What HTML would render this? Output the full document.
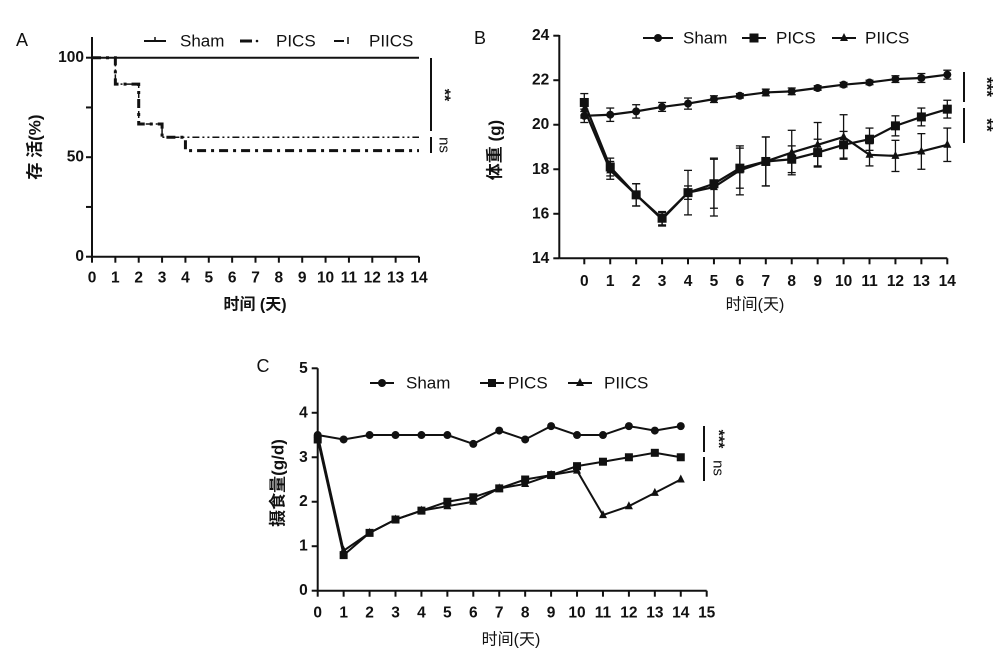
<!DOCTYPE html>
<html><head><meta charset="utf-8"><style>
html,body{margin:0;padding:0;background:#fff}
svg{display:block}
text{font-family:"Liberation Sans","Noto Sans CJK SC",sans-serif;fill:#111}
</style></head><body>
<svg id="s" width="1005" height="658" viewBox="0 0 1005 658" xmlns="http://www.w3.org/2000/svg">
</svg>
<script>
const S=document.getElementById('s');const NS='http://www.w3.org/2000/svg';
function el(t,a,txt){const e=document.createElementNS(NS,t);for(const k in a)e.setAttribute(k,a[k]);if(txt!==undefined)e.textContent=txt;S.appendChild(e);return e;}
function line(x1,y1,x2,y2,w,da){el('line',{x1,y1,x2,y2,stroke:'#111','stroke-width':w||2,'stroke-dasharray':da||'none'});}
function txt(x,y,s,o){o=o||{};const a={x,y,'font-size':o.fs||15,'text-anchor':o.a||'middle','font-weight':o.b?'bold':'normal'};if(o.tr)a.transform=o.tr;if(o.ff)a['font-family']=o.ff;a['dominant-baseline']='central';el('text',a,s);}
function poly(pts,w,da){el('polyline',{points:pts.map(p=>p.join(',')).join(' '),fill:'none',stroke:'#111','stroke-width':w||2,'stroke-dasharray':da||'none'});}
function marker(type,x,y,r){r=r||4;
 if(type==0)el('circle',{cx:x,cy:y,r:r,fill:'#111'});
 else if(type==1)el('rect',{x:x-r,y:y-r,width:2*r,height:2*r,fill:'#111'});
 else el('polygon',{points:`${x},${y-r-1} ${x-r},${y+r-1} ${x+r},${y+r-1}`,fill:'#111'});}
const TF=15.5, LF=17;
// ---------- Panel A ----------
(function(){
 const X0=92,DX=(419-92)/14,Y0=256.7,Y100=57.7;const Y=v=>Y0-(v/100)*(Y0-Y100);const X=d=>X0+d*DX;
 txt(22,40,'A',{fs:18,ff:'Liberation Serif',a:'middle'});
 line(X0,37,X0,Y0,2);line(X0,Y0,X(14),Y0,2);
 [0,25,50,75,100].forEach(v=>{line(X0-6,Y(v),X0,Y(v),2);});
 [0,50,100].forEach(v=>txt(X0-8,Y(v),String(v),{a:'end',b:1,fs:TF}));
 for(let d=0;d<=14;d++){line(X(d),Y0,X(d),Y0+6,2);txt(X(d),278,String(d),{b:1,fs:TF});}
 txt(255,305,'时间 (天)',{fs:16,b:1});
 txt(35,147,'存 活(%)',{fs:17,b:1,tr:'rotate(-90 35 147)'});
 line(X0,Y(100),X(14),Y(100),2);
 poly([[X0,Y(100)],[X(1),Y(100)],[X(1),Y(86.7)],[X(2),Y(86.7)],[X(2),Y(66.7)],[X(3),Y(66.7)],[X(3),Y(60)],[X(14),Y(60)]],1.5,'7 3 2 3 2 3');
 poly([[X0,Y(100)],[X(1),Y(100)],[X(1),Y(86.7)],[X(2),Y(86.7)],[X(2),Y(66.7)],[X(3),Y(66.7)],[X(3),Y(60)],[X(4),Y(60)],[X(4),Y(53.3)],[X(14),Y(53.3)]],3,'9 5 3 5');
 line(144,41,166,41,2);line(155,37,155,41,1.5);txt(180,41,'Sham',{a:'start',fs:LF});
 line(240,41,252,41,3);el('circle',{cx:257,cy:41,r:1.3,fill:'#111'});txt(276,41,'PICS',{a:'start',fs:LF});
 line(334,41,344,41,2);line(348,37,348,44,1.5);txt(369,41,'PIICS',{a:'start',fs:LF});
 line(431,58,431,131,2);line(431,137,431,153,2);
 txt(444,95,'**',{b:1,fs:16,tr:'rotate(90 444 95)'});
 txt(444,145,'ns',{fs:15,tr:'rotate(90 444 145)'});
})();
// ---------- Panel B ----------
(function(){
 const AX=559.3,X0=584.3,DX=(947.3-584.3)/14,Y14=258.3,Y24=35.7;const Y=v=>Y14-(v-14)*(Y14-Y24)/10;const X=d=>X0+d*DX;
 txt(480,38,'B',{fs:18,ff:'Liberation Serif'});
 line(AX,35,AX,Y14,2);line(AX,Y14,X(14),Y14,2);
 [14,16,18,20,22,24].forEach(v=>{line(AX-6,Y(v),AX,Y(v),2);txt(AX-10,Y(v),String(v),{a:'end',b:1,fs:TF});});
 for(let d=0;d<=14;d++){line(X(d),Y14,X(d),Y14+6,2);txt(X(d),281.7,String(d),{b:1,fs:TF});}
 txt(755,305,'时间(天)',{fs:16});
 txt(495,150,'体重 (g)',{fs:17,b:1,tr:'rotate(-90 495 150)'});
 const sh=[20.4,20.45,20.6,20.8,20.95,21.15,21.3,21.45,21.5,21.65,21.8,21.9,22.05,22.1,22.25];
 const pc=[21.0,18.1,16.85,15.8,16.95,17.35,18.05,18.35,18.45,18.75,19.1,19.35,19.95,20.35,20.7];
 const pi=[20.7,17.95,16.85,15.75,16.95,17.2,17.95,18.35,18.75,19.1,19.45,18.65,18.6,18.8,19.1];
 const esh=[0.3,0.3,0.3,0.2,0.25,0.15,0.1,0.15,0.15,0.1,0.1,0.1,0.15,0.2,0.2];
 const epc=[0.4,0.4,0.5,0.3,1.0,1.1,0.9,1.1,0.6,0.6,0.6,0.5,0.45,0.4,0.4];
 const epi=[0.4,0.4,0.5,0.3,0.3,1.3,1.1,1.1,1.0,1.0,1.0,0.5,0.7,0.8,0.75];
 function bars(v,e){v.forEach((y,i)=>{const x=X(i);line(x,Y(y-e[i]),x,Y(y+e[i]),1.3);line(x-4,Y(y-e[i]),x+4,Y(y-e[i]),1.3);line(x-4,Y(y+e[i]),x+4,Y(y+e[i]),1.3);});}
 bars(pi,epi);bars(pc,epc);bars(sh,esh);
 poly(pi.map((v,i)=>[X(i),Y(v)]),2.2);poly(pc.map((v,i)=>[X(i),Y(v)]),2.2);poly(sh.map((v,i)=>[X(i),Y(v)]),2.2);
 pi.forEach((v,i)=>marker(2,X(i),Y(v),4));pc.forEach((v,i)=>marker(1,X(i),Y(v),4.5));sh.forEach((v,i)=>marker(0,X(i),Y(v),4));
 line(643,38,673,38,2);marker(0,658,38,4);txt(683,38,'Sham',{a:'start',fs:LF});
 line(742,38,766,38,2);marker(1,754,38,4.5);txt(776,38,'PICS',{a:'start',fs:LF});
 line(832,38,856,38,2);marker(2,844,38,4);txt(865,38,'PIICS',{a:'start',fs:LF});
 line(964,72,964,102,2);line(964,108,964,143,2);
 txt(987,87,'***',{b:1,fs:17,tr:'rotate(90 987 87)'});
 txt(987,125,'**',{b:1,fs:17,tr:'rotate(90 987 125)'});
})();
// ---------- Panel C ----------
(function(){
 const X0=317.7,DX=(706.7-317.7)/15,Y0=590.7,Y5=368.3;const Y=v=>Y0-v*(Y0-Y5)/5;const X=d=>X0+d*DX;
 txt(263,366,'C',{fs:18,ff:'Liberation Serif'});
 line(X0,Y5,X0,Y0,2);line(X0,Y0,X(15),Y0,2);
 for(let v=0;v<=5;v++){line(X0-6,Y(v),X0,Y(v),2);txt(X0-10,Y(v),String(v),{a:'end',b:1,fs:TF});}
 for(let d=0;d<=15;d++){line(X(d),Y0,X(d),Y0+6,2);txt(X(d),613,String(d),{b:1,fs:TF});}
 txt(511,640,'时间(天)',{fs:16});
 txt(278,483,'摄食量(g/d)',{fs:17,b:1,tr:'rotate(-90 278 483)'});
 const sh=[3.5,3.4,3.5,3.5,3.5,3.5,3.3,3.6,3.4,3.7,3.5,3.5,3.7,3.6,3.7];
 const pc=[3.4,0.8,1.3,1.6,1.8,2.0,2.1,2.3,2.5,2.6,2.8,2.9,3.0,3.1,3.0];
 const pi=[3.5,0.9,1.3,1.6,1.8,1.9,2.0,2.3,2.4,2.6,2.7,1.7,1.9,2.2,2.5];
 poly(pi.map((v,i)=>[X(i),Y(v)]),2);poly(pc.map((v,i)=>[X(i),Y(v)]),2);poly(sh.map((v,i)=>[X(i),Y(v)]),2);
 pi.forEach((v,i)=>marker(2,X(i),Y(v),4));pc.forEach((v,i)=>marker(1,X(i),Y(v),4));sh.forEach((v,i)=>marker(0,X(i),Y(v),4));
 line(370,383,394,383,2);marker(0,382,383,4);txt(406,383,'Sham',{a:'start',fs:LF});
 line(480,383,504,383,2);marker(1,492,383,4);txt(508,383,'PICS',{a:'start',fs:LF});
 line(568,383,592,383,2);marker(2,580,383,4);txt(604,383,'PIICS',{a:'start',fs:LF});
 line(704,426,704,452,2);line(704,457,704,481,2);
 txt(718,439,'***',{b:1,fs:16,tr:'rotate(90 718 439)'});
 txt(718,468,'ns',{fs:15,tr:'rotate(90 718 468)'});
})();
</script>
</body></html>
